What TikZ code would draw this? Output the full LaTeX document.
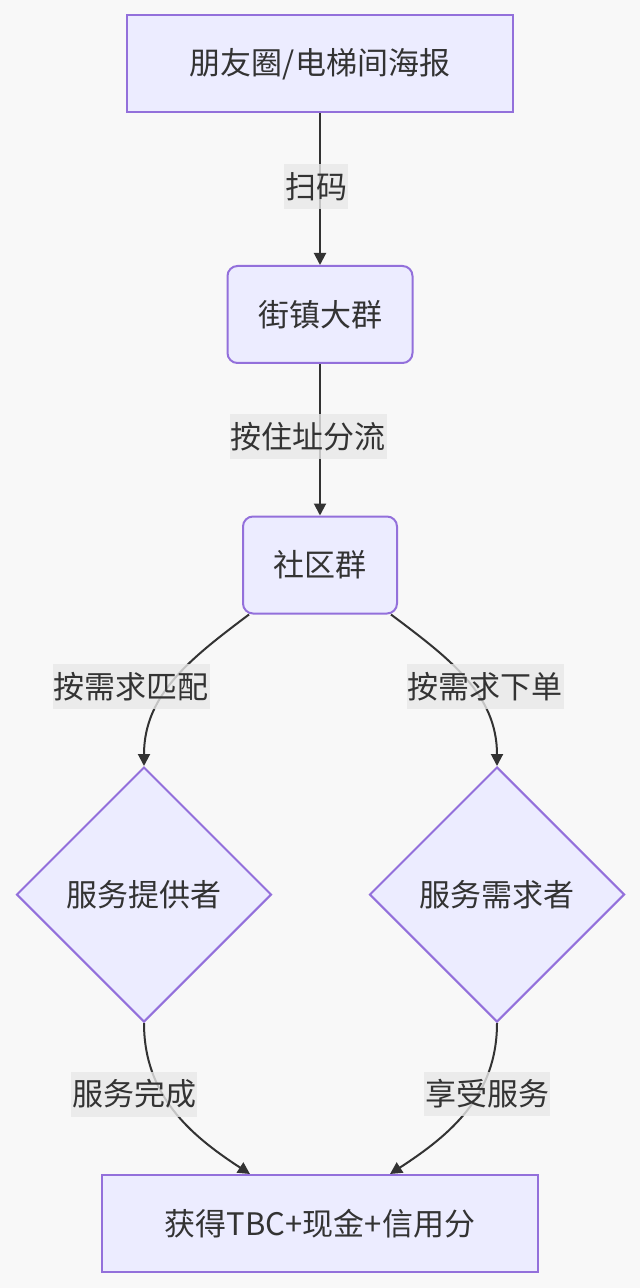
\documentclass[tikz,border=0pt]{standalone}
\usepackage{fontspec}
\setmainfont{Noto Sans CJK SC}
\usetikzlibrary{arrows.meta,shapes.geometric,positioning}
\definecolor{nodefill}{HTML}{ECECFF}
\definecolor{nodeline}{HTML}{9370DB}
\definecolor{inkgray}{HTML}{333333}
\definecolor{lblbg}{HTML}{E8E8E8}
\definecolor{pagebg}{HTML}{F8F8F8}

\begin{document}
\begin{tikzpicture}[
    x=0.5pt, y=0.5pt,
    box/.style={draw=nodeline, fill=nodefill, line width=1pt, text=inkgray, font=\fontsize{15.5}{18}\selectfont, minimum height=48.5pt, inner sep=0pt},
    rbox/.style={box, rounded corners=5pt},
    decide/.style={box, diamond, aspect=1, minimum width=127.5pt, minimum height=127.5pt},
    lbl/.style={fill=lblbg, fill opacity=0.8, text opacity=1, text=inkgray, font=\fontsize{15.5}{18}\selectfont, inner xsep=0.5pt, inner ysep=4pt},
    arr/.style={-{Triangle[length=6pt, width=6pt]}, line width=1pt, draw=inkgray}
]
\path[use as bounding box, fill=pagebg] (0,0) rectangle (640,-1288);

\node[box, minimum width=193pt] (poster) at (320,-64) {朋友圈/电梯间海报};
\node[rbox, minimum width=92.5pt] (town) at (320,-314.5) {街镇大群};
\node[rbox, minimum width=77pt] (comm) at (320,-565) {社区群};
\node[decide] (provider) at (144,-894.5) {服务提供者};
\node[decide] (seeker) at (497,-894.5) {服务需求者};
\node[box, minimum width=218pt] (reward) at (320,-1223.5) {获得TBC+现金+信用分};

\draw[arr] (poster) -- (town);
\draw[arr] (town) -- (comm);
\draw[arr] ([xshift=3.5pt]comm.south west) to[out=217, in=90] (provider.north);
\draw[arr] ([xshift=-3.5pt]comm.south east) to[out=-37, in=90] (seeker.north);
\draw[arr] (provider.south) to[out=-90, in=147] ([xshift=-35pt]reward.north);
\draw[arr] (seeker.south) to[out=-90, in=33] ([xshift=35pt]reward.north);

\node[lbl] (scan) at (316,-186.5) {扫码};
\node[lbl] (split) at (308,-436.5) {按住址分流};
\node[lbl] (match) at (131,-686.5) {按需求匹配};
\node[lbl] (order) at (485,-686.5) {按需求下单};
\node[lbl] (done) at (134,-1094) {服务完成};
\node[lbl] (enjoy) at (487,-1094) {享受服务};
\end{tikzpicture}
\end{document}
